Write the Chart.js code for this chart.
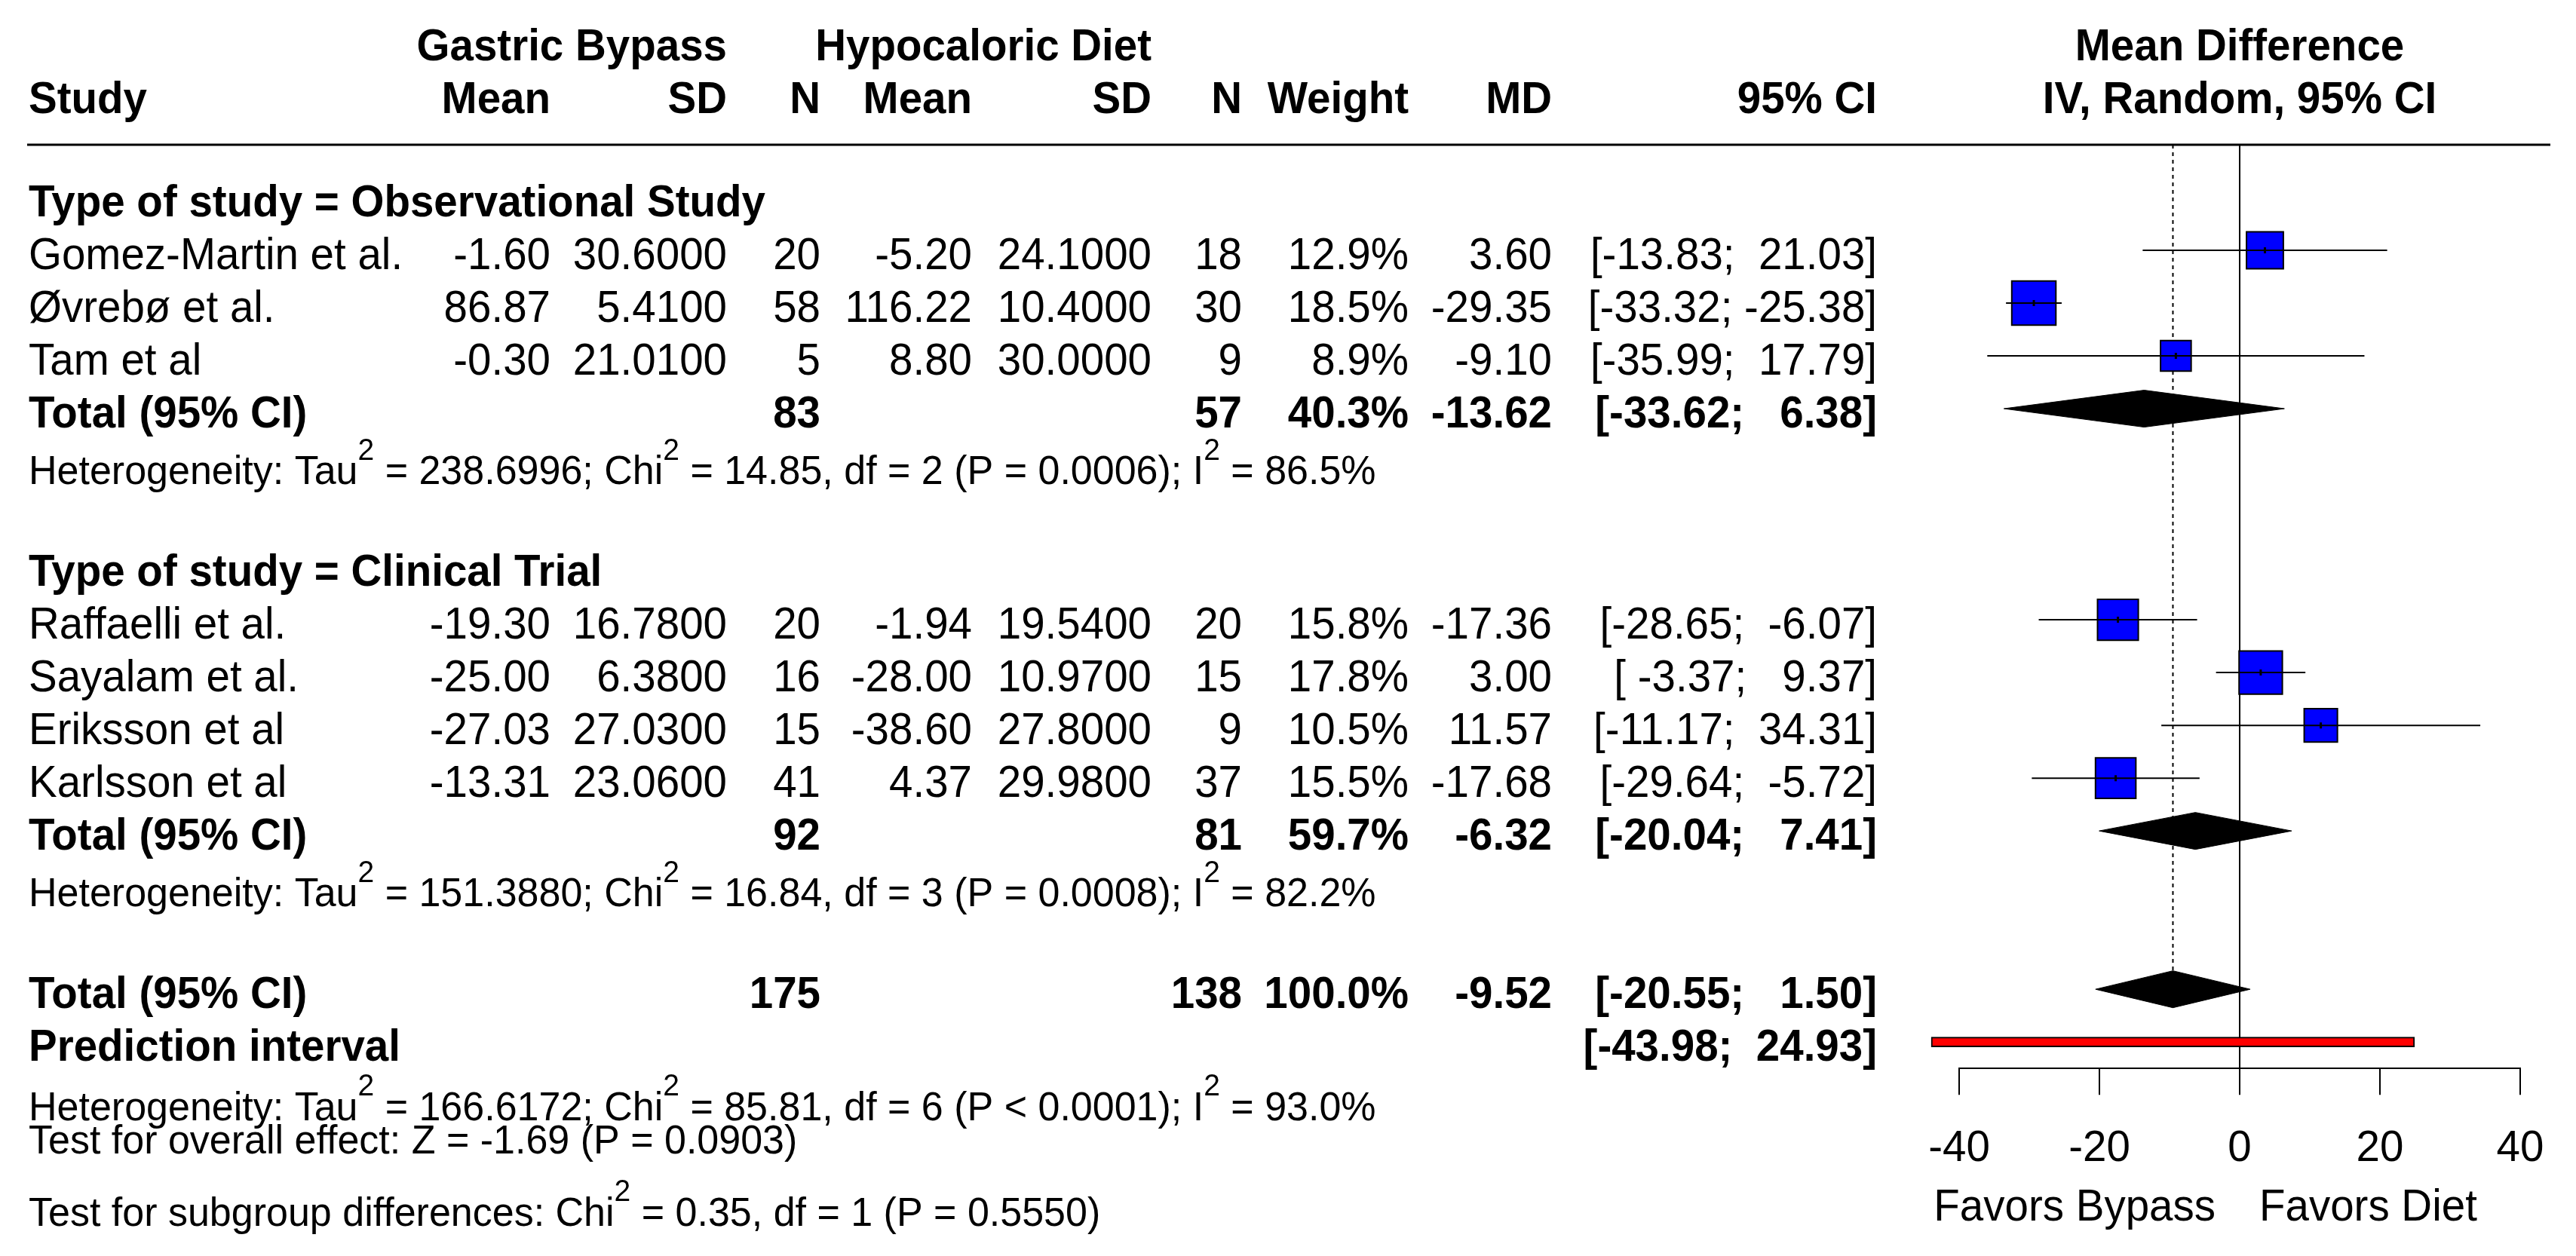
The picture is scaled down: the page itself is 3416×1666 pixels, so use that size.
<!DOCTYPE html>
<html><head><meta charset="utf-8">
<script src="https://cdn.jsdelivr.net/npm/chart.js@4.4.1/dist/chart.umd.min.js"></script>
<style>html,body{margin:0;padding:0;background:#fff;}canvas{display:block;}</style>
</head><body>
<canvas id="c" width="3416" height="1666"></canvas>
<script>
// ---------------- DATA ----------------
const studies    = ["Gomez-Martin et al.", "Øvrebø et al.", "Tam et al", "Raffaelli et al.", "Sayalam et al.", "Eriksson et al", "Karlsson et al"];
const studyGroup = [0, 0, 0, 1, 1, 1, 1];
const groupNames = ["Type of study = Observational Study", "Type of study = Clinical Trial"];
const bypassMean = [-1.60, 86.87, -0.30, -19.30, -25.00, -27.03, -13.31];
const bypassSD   = [30.6000, 5.4100, 21.0100, 16.7800, 6.3800, 27.0300, 23.0600];
const bypassN    = [20, 58, 5, 20, 16, 15, 41];
const dietMean   = [-5.20, 116.22, 8.80, -1.94, -28.00, -38.60, 4.37];
const dietSD     = [24.1000, 10.4000, 30.0000, 19.5400, 10.9700, 27.8000, 29.9800];
const dietN      = [18, 30, 9, 20, 15, 9, 37];
const weights    = [12.9, 18.5, 8.9, 15.8, 17.8, 10.5, 15.5];
const md         = [3.60, -29.35, -9.10, -17.36, 3.00, 11.57, -17.68];
const ciLow      = [-13.83, -33.32, -35.99, -28.65, -3.37, -11.17, -29.64];
const ciHigh     = [21.03, -25.38, 17.79, -6.07, 9.37, 34.31, -5.72];

// subgroup totals: [observational, clinical trial]
const subBypassN = [83, 92];
const subDietN   = [57, 81];
const subWeight  = [40.3, 59.7];
const subMD      = [-13.62, -6.32];
const subLow     = [-33.62, -20.04];
const subHigh    = [6.38, 7.41];
const subTau2    = [238.6996, 151.3880];
const subChi2    = [14.85, 16.84];
const subDf      = [2, 3];
const subP       = ["= 0.0006", "= 0.0008"];
const subI2      = [86.5, 82.2];

// overall
const totBypassN = 175, totDietN = 138, totWeight = 100.0;
const totMD = -9.52, totLow = -20.55, totHigh = 1.50;
const predLow = -43.98, predHigh = 24.93;
const totTau2 = 166.6172, totChi2 = 85.81, totDf = 6, totP = "< 0.0001", totI2 = 93.0;
const testZ = -1.69, testP = "0.0903";
const sgChi2 = 0.35, sgDf = 1, sgP = "0.5550";

const tickValues = [-40, -20, 0, 20, 40];
const leftLabel = "Favors Bypass", rightLabel = "Favors Diet";

// ---------------- LAYOUT ----------------
const FONT = '"Liberation Sans", Arial, Helvetica, sans-serif';
const FS = 56.5, HFS = 52, VSTRETCH = 1.04;
const COL = {study: 38, bMean: 730, bSD: 964, bN: 1088, dMean: 1289, dSD: 1527, dN: 1647, w: 1868, md: 2058, ci: 2489};
const TEXT_DY = 4;

// row indices
const rows = {};
(function buildRows(){
  let r = 0;
  rows.groupHead = []; rows.study = []; rows.subTotal = []; rows.subHet = [];
  for (let g = 0; g < groupNames.length; g++) {
    rows.groupHead[g] = r++;
    studies.forEach((s, i) => { if (studyGroup[i] === g) rows.study[i] = r++; });
    rows.subTotal[g] = r++;
    rows.subHet[g] = r++;
    r++; // blank
  }
  rows.total = r++;
  rows.pred = r++;
})();
const DIAMOND_HALF = 0.35;

const f2 = v => v.toFixed(2);
const ciStr = (lo, hi) => "[" + f2(lo).padStart(6) + "; " + f2(hi).padStart(6) + "]";

// ---------------- DATASETS ----------------
const datasets = [];
// estimate tick marks (on top)
datasets.push({type: 'scatter', data: studies.map((s, i) => ({x: md[i], y: rows.study[i]})),
  pointStyle: 'line', rotation: 90, pointRadius: 4, borderColor: '#000', borderWidth: 3, order: -1});
// CI lines
studies.forEach((s, i) => {
  datasets.push({type: 'line', data: [{x: ciLow[i], y: rows.study[i]}, {x: ciHigh[i], y: rows.study[i]}],
    borderColor: '#000', borderWidth: 2, pointRadius: 0, fill: false, order: 0});
});
// squares
datasets.push({type: 'scatter', data: studies.map((s, i) => ({x: md[i], y: rows.study[i]})),
  pointStyle: 'rect', pointRadius: weights.map(w => 13.6 * Math.sqrt(w) / Math.SQRT2),
  backgroundColor: '#0000ff', borderColor: '#000', borderWidth: 2, order: 1});
// diamonds
const diamonds = [
  {est: subMD[0], lo: subLow[0], hi: subHigh[0], row: rows.subTotal[0]},
  {est: subMD[1], lo: subLow[1], hi: subHigh[1], row: rows.subTotal[1]},
  {est: totMD, lo: totLow, hi: totHigh, row: rows.total}
];
diamonds.forEach(d => {
  datasets.push({type: 'line', data: [{x: d.lo, y: d.row}, {x: d.est, y: d.row - DIAMOND_HALF}, {x: d.hi, y: d.row}],
    borderColor: '#000', borderWidth: 1, backgroundColor: '#000', pointRadius: 0, fill: '+1', tension: 0, order: 2});
  datasets.push({type: 'line', data: [{x: d.lo, y: d.row}, {x: d.est, y: d.row + DIAMOND_HALF}, {x: d.hi, y: d.row}],
    borderColor: '#000', borderWidth: 1, backgroundColor: '#000', pointRadius: 0, fill: false, tension: 0, order: 2});
});
// prediction interval
datasets.push({type: 'bar', indexAxis: 'y', data: [{x: [predLow, predHigh], y: rows.pred}],
  barThickness: 13, backgroundColor: '#ff0000', borderColor: '#000', borderWidth: 2, borderSkipped: false,
  clip: false, order: 3});
// reference line (no effect) and overall estimate line
datasets.push({type: 'line', data: [{x: 0, y: -1}, {x: 0, y: rows.pred + 0.5}],
  borderColor: '#000', borderWidth: 2, pointRadius: 0, fill: false, order: 5});
datasets.push({type: 'line', data: [{x: totMD, y: -1}, {x: totMD, y: rows.total - DIAMOND_HALF}],
  borderColor: '#000', borderWidth: 2, borderDash: [5, 5], pointRadius: 0, fill: false, order: 4});

// ---------------- TEXT PLUGIN ----------------
function font(size, bold) { return (bold ? 'bold ' : '') + size + 'px ' + FONT; }

const textPlugin = {
  id: 'forestText',
  afterDraw(chart) {
    const ctx = chart.ctx, ys = chart.scales.y, xs = chart.scales.x;
    const Y = r => ys.getPixelForValue(r);
    ctx.save();
    ctx.fillStyle = '#000';
    ctx.textBaseline = 'alphabetic';
    const put = (s, x, base) => {
      ctx.save(); ctx.translate(x, base); ctx.scale(1, VSTRETCH); ctx.fillText(s, 0, 0); ctx.restore();
    };
    const txt = (s, x, yc, align, bold, size) => {
      size = size || FS;
      ctx.font = font(size, bold);
      ctx.textAlign = align || 'right';
      put(s, x, yc + 0.36 * size * VSTRETCH);
    };
    const rowTxt = (s, x, r, align, bold) => txt(s, x, Y(r) + TEXT_DY, align, bold, FS);
    const rich = (parts, x, yc, size) => {
      let cx = x; const base = yc + 0.36 * size * VSTRETCH;
      ctx.textAlign = 'left';
      parts.forEach(p => {
        if (typeof p === 'object') {
          ctx.font = font(size * 0.75, false);
          put(p.sup, cx, base - size * 0.62);
          cx += ctx.measureText(p.sup).width;
        } else {
          ctx.font = font(size, false);
          put(p, cx, base);
          cx += ctx.measureText(p).width;
        }
      });
    };

    // header line
    ctx.strokeStyle = '#000'; ctx.lineWidth = 3;
    ctx.beginPath(); ctx.moveTo(36, Y(-1)); ctx.lineTo(3382, Y(-1)); ctx.stroke();

    // column headers
    const h1 = Y(-2.9), h2 = Y(-1.9);
    txt("Gastric Bypass", COL.bSD, h1, 'right', true);
    txt("Hypocaloric Diet", COL.dSD, h1, 'right', true);
    txt("Study", COL.study, h2, 'left', true);
    txt("Mean", COL.bMean, h2, 'right', true);
    txt("SD", COL.bSD, h2, 'right', true);
    txt("N", COL.bN, h2, 'right', true);
    txt("Mean", COL.dMean, h2, 'right', true);
    txt("SD", COL.dSD, h2, 'right', true);
    txt("N", COL.dN, h2, 'right', true);
    txt("Weight", COL.w, h2, 'right', true);
    txt("MD", COL.md, h2, 'right', true);
    txt("95% CI", COL.ci, h2, 'right', true);
    const xc = xs.getPixelForValue(0);
    txt("Mean Difference", xc, h1, 'center', true);
    txt("IV, Random, 95% CI", xc, h2, 'center', true);

    // groups
    for (let g = 0; g < groupNames.length; g++) {
      rowTxt(groupNames[g], COL.study, rows.groupHead[g], 'left', true);
      studies.forEach((s, i) => {
        if (studyGroup[i] !== g) return;
        const r = rows.study[i];
        rowTxt(s, COL.study, r, 'left');
        rowTxt(f2(bypassMean[i]), COL.bMean, r);
        rowTxt(bypassSD[i].toFixed(4), COL.bSD, r);
        rowTxt(String(bypassN[i]), COL.bN, r);
        rowTxt(f2(dietMean[i]), COL.dMean, r);
        rowTxt(dietSD[i].toFixed(4), COL.dSD, r);
        rowTxt(String(dietN[i]), COL.dN, r);
        rowTxt(weights[i].toFixed(1) + "%", COL.w, r);
        rowTxt(f2(md[i]), COL.md, r);
        rowTxt(ciStr(ciLow[i], ciHigh[i]), COL.ci, r);
      });
      const r = rows.subTotal[g];
      rowTxt("Total (95% CI)", COL.study, r, 'left', true);
      rowTxt(String(subBypassN[g]), COL.bN, r, 'right', true);
      rowTxt(String(subDietN[g]), COL.dN, r, 'right', true);
      rowTxt(subWeight[g].toFixed(1) + "%", COL.w, r, 'right', true);
      rowTxt(f2(subMD[g]), COL.md, r, 'right', true);
      rowTxt(ciStr(subLow[g], subHigh[g]), COL.ci, r, 'right', true);
      rich(["Heterogeneity: Tau", {sup: "2"}, " = " + subTau2[g].toFixed(4) + "; Chi", {sup: "2"},
            " = " + subChi2[g].toFixed(2) + ", df = " + subDf[g] + " (P " + subP[g] + "); I", {sup: "2"},
            " = " + subI2[g].toFixed(1) + "%"], COL.study, Y(rows.subHet[g] + 0.15), HFS);
    }

    // overall
    rowTxt("Total (95% CI)", COL.study, rows.total, 'left', true);
    rowTxt(String(totBypassN), COL.bN, rows.total, 'right', true);
    rowTxt(String(totDietN), COL.dN, rows.total, 'right', true);
    rowTxt(totWeight.toFixed(1) + "%", COL.w, rows.total, 'right', true);
    rowTxt(f2(totMD), COL.md, rows.total, 'right', true);
    rowTxt(ciStr(totLow, totHigh), COL.ci, rows.total, 'right', true);
    rowTxt("Prediction interval", COL.study, rows.pred, 'left', true);
    rowTxt(ciStr(predLow, predHigh), COL.ci, rows.pred, 'right', true);
    rich(["Heterogeneity: Tau", {sup: "2"}, " = " + totTau2.toFixed(4) + "; Chi", {sup: "2"},
          " = " + totChi2.toFixed(2) + ", df = " + totDf + " (P " + totP + "); I", {sup: "2"},
          " = " + totI2.toFixed(1) + "%"], COL.study, Y(rows.pred + 1.2), HFS);
    rich(["Test for overall effect: Z = " + f2(testZ) + " (P = " + testP + ")"], COL.study, Y(rows.pred + 1.83), HFS);
    rich(["Test for subgroup differences: Chi", {sup: "2"}, " = " + f2(sgChi2) + ", df = " + sgDf + " (P = " + sgP + ")"],
         COL.study, Y(rows.pred + 3.2), HFS);

    // axis side labels
    const yl = xs.bottom + 2;
    txt(leftLabel, xc - 32, yl, 'right', false);
    txt(rightLabel, xc + 26, yl, 'left', false);
    ctx.restore();
  }
};

// ---------------- CHART ----------------
new Chart(document.getElementById('c'), {
  type: 'scatter',
  data: {datasets},
  options: {
    responsive: false, animation: false, devicePixelRatio: 1, events: [],
    layout: {padding: {left: 2598, right: 74, top: 192, bottom: 70}},
    plugins: {legend: {display: false}, tooltip: {enabled: false}},
    scales: {
      x: {type: 'linear', position: 'bottom', offset: false, min: tickValues[0], max: tickValues[tickValues.length - 1],
        afterBuildTicks: s => { s.ticks = tickValues.map(v => ({value: v})); },
        grid: {drawOnChartArea: false, drawTicks: true, tickLength: 35, color: '#000', lineWidth: 2, offset: false},
        border: {display: true, color: '#000', width: 2},
        ticks: {color: '#000', font: {family: FONT, size: FS}, padding: 38, maxRotation: 0, autoSkip: false}
      },
      y: {type: 'linear', reverse: true, offset: false, grid: {offset: false}, min: -1, max: rows.pred + 0.5, display: false}
    }
  },
  plugins: [textPlugin]
});
</script>
</body></html>
